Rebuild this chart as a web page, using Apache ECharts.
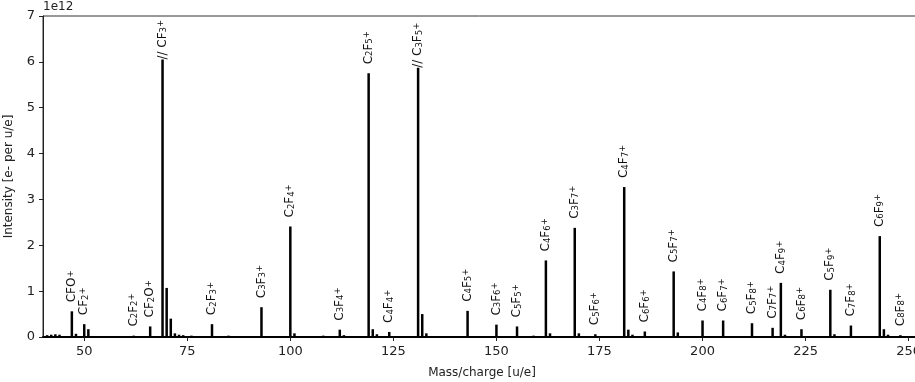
<!DOCTYPE html>
<html>
<head>
<meta charset="utf-8">
<title>Mass spectrum</title>
<script src="https://cdn.jsdelivr.net/npm/echarts@6/dist/echarts.min.js"></script>
<style>
  html, body { margin: 0; padding: 0; background: #fff; }
  #chart { width: 915px; height: 382px; }
</style>
</head>
<body>
<div id="chart"></div>
<script>
// labelled ions (m/z, intensity in e- per u/e)
const ionMass = [47, 50, 62, 66, 69, 81, 93, 100, 112, 119, 124, 131, 143, 150, 155, 162,
  169, 174, 181, 186, 193, 200, 205, 212, 217, 219, 224, 231, 236, 243, 248];
const ionIntensity = [0.56e12, 0.28e12, 0.03e12, 0.23e12, 6.05e12, 0.28e12, 0.65e12, 2.41e12,
  0.16e12, 5.75e12, 0.11e12, 5.87e12, 0.57e12, 0.27e12, 0.23e12, 1.67e12, 2.38e12, 0.06e12,
  3.27e12, 0.12e12, 1.43e12, 0.36e12, 0.36e12, 0.30e12, 0.20e12, 1.18e12, 0.17e12, 1.03e12,
  0.25e12, 2.20e12, 0.04e12];
// "//" = peak cut off (break mark), digits -> subscript, "+" -> superscript
const ionName = ["CFO+", "CF2+", "C2F2+", "CF2O+", "//CF3+", "C2F3+", "C3F3+", "C2F4+",
  "C3F4+", "C2F5+", "C4F4+", "//C3F5+", "C4F5+", "C3F6+", "C5F5+", "C4F6+", "C3F7+", "C5F6+",
  "C4F7+", "C6F6+", "C5F7+", "C4F8+", "C6F7+", "C5F8+", "C7F7+", "C4F9+", "C6F8+", "C5F9+",
  "C7F8+", "C6F9+", "C8F8+"];

// unlabelled shoulders / small peaks
const minorMass = [41, 42, 43, 44, 48, 51, 70, 71, 72, 73, 74, 76, 85, 101, 108, 113, 120, 121,
  132, 133, 159, 163, 170, 182, 183, 194, 220, 232, 244, 245];
const minorIntensity = [0.04e12, 0.05e12, 0.06e12, 0.05e12, 0.07e12, 0.17e12, 1.07e12, 0.40e12,
  0.08e12, 0.05e12, 0.04e12, 0.03e12, 0.03e12, 0.08e12, 0.03e12, 0.04e12, 0.17e12, 0.06e12,
  0.50e12, 0.08e12, 0.03e12, 0.08e12, 0.08e12, 0.16e12, 0.05e12, 0.10e12, 0.05e12, 0.06e12,
  0.17e12, 0.05e12];

const xTicks = [50, 75, 100, 125, 150, 175, 200, 225, 250];

function richName(s) {
  let out = "";
  let buf = "";
  const flush = () => { if (buf) { out += "{n|" + buf + "}"; buf = ""; } };
  let i = 0;
  if (s.startsWith("//")) { out += "{n|// }"; i = 2; }
  for (; i < s.length; i++) {
    const c = s[i];
    if (c >= "0" && c <= "9") { flush(); out += "{s|" + c + "}"; }
    else if (c === "+") { flush(); out += "{p|+}"; }
    else buf += c;
  }
  flush();
  return out;
}

const ionData = ionMass.map((m, i) => ({
  value: [m, ionIntensity[i]],
  name: ionName[i],
  label: { distance: ionName[i].startsWith("//") ? 0 : 9 }
}));
const minorData = minorMass.map((m, i) => [m, minorIntensity[i]]);

const chart = echarts.init(document.getElementById("chart"), null, { renderer: "canvas" });

chart.setOption({
  animation: false,
  textStyle: { fontFamily: "DejaVu Sans" },
  grid: {
    show: true,
    left: 43,
    right: -6,
    top: 16,
    bottom: 45,
    containLabel: false,
    outerBoundsMode: "none",
    borderColor: "#333",
    borderWidth: 1
  },
  graphic: [{
    type: "text",
    left: 43,
    top: 1,
    style: { text: "1e12", fontSize: 12, fill: "#222", fontFamily: "DejaVu Sans" }
  }],
  xAxis: {
    type: "value",
    min: 40,
    max: 253,
    name: "Mass/charge [u/e]",
    nameLocation: "middle",
    nameGap: 30,
    nameTextStyle: { fontSize: 12, color: "#222" },
    axisLine: { lineStyle: { color: "#000", width: 2 } },
    axisTick: { customValues: xTicks, length: 4, lineStyle: { color: "#222" } },
    axisLabel: { customValues: xTicks, fontSize: 13, color: "#222", margin: 8 },
    splitLine: { show: false }
  },
  yAxis: {
    type: "value",
    min: 0,
    max: 7e12,
    interval: 1e12,
    name: "Intensity [e- per u/e]",
    nameLocation: "middle",
    nameGap: 28,
    nameTextStyle: { fontSize: 12, color: "#222" },
    axisLine: { show: true, lineStyle: { color: "#222", width: 1 } },
    axisTick: { show: true, length: 4, lineStyle: { color: "#222" } },
    axisLabel: { fontSize: 13, color: "#222", margin: 8, formatter: (v) => String(v / 1e12) },
    splitLine: { show: false }
  },
  series: [
    {
      type: "bar",
      name: "minor",
      data: minorData,
      barWidth: 2.5,
      barGap: "-100%",
      itemStyle: { color: "#000" },
      silent: true
    },
    {
      type: "bar",
      name: "ions",
      data: ionData,
      barWidth: 2.5,
      barGap: "-100%",
      itemStyle: { color: "#000" },
      label: {
        show: true,
        position: "top",
        rotate: 90,
        align: "left",
        verticalAlign: "middle",
        formatter: (p) => richName(p.name),
        rich: {
          n: { fontSize: 12, color: "#111", fontFamily: "DejaVu Sans" },
          s: { fontSize: 8.5, color: "#111", fontFamily: "DejaVu Sans", verticalAlign: "bottom" },
          p: { fontSize: 8.5, color: "#111", fontFamily: "DejaVu Sans", verticalAlign: "top" }
        }
      },
      silent: true
    }
  ]
});
</script>
</body>
</html>
